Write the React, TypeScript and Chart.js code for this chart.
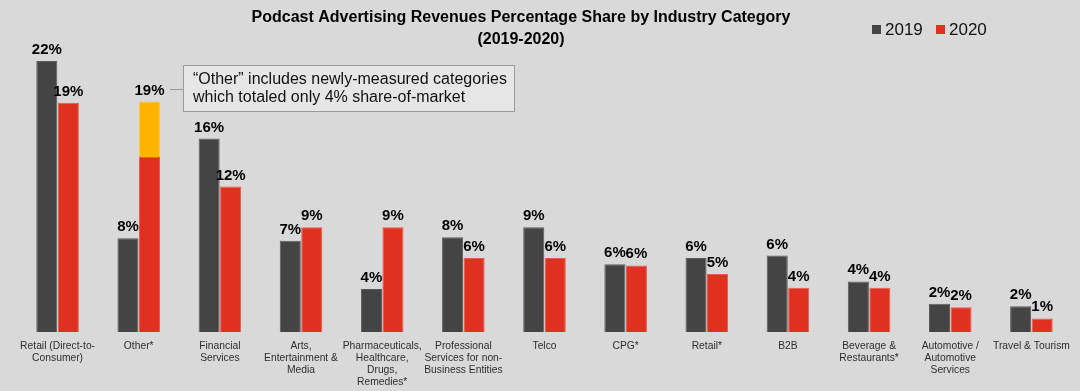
import React, { useEffect, useRef } from "react";
import { Chart, registerables } from "chart.js";

Chart.register(...registerables);

const categories: string[][] = [
  ["Retail (Direct-to-", "Consumer)"],
  ["Other*"],
  ["Financial", "Services"],
  ["Arts,", "Entertainment &", "Media"],
  ["Pharmaceuticals,", "Healthcare,", "Drugs,", "Remedies*"],
  ["Professional", "Services for non-", "Business Entities"],
  ["Telco"],
  ["CPG*"],
  ["Retail*"],
  ["B2B"],
  ["Beverage &", "Restaurants*"],
  ["Automotive /", "Automotive", "Services"],
  ["Travel & Tourism"],
];

const values2019 = [22.0, 7.6, 15.7, 7.4, 3.5, 7.7, 8.5, 5.5, 6.0, 6.2, 4.1, 2.3, 2.1];
const values2020 = [18.6, 14.2, 11.8, 8.5, 8.5, 6.0, 6.0, 5.4, 4.7, 3.6, 3.6, 2.0, 1.1];
const newlyMeasured2020 = [null, 4.5, null, null, null, null, null, null, null, null, null, null, null];

const labels2019 = ["22%", "8%", "16%", "7%", "4%", "8%", "9%", "6%", "6%", "6%", "4%", "2%", "2%"];
const labels2020 = ["19%", "19%", "12%", "9%", "9%", "6%", "6%", "6%", "5%", "4%", "4%", "2%", "1%"];

const titleLines = ["Podcast Advertising Revenues Percentage Share by Industry Category", "(2019-2020)"];
const legendLabels = ["2019", "2020"];
const noteLines = ["\u201COther\u201D includes newly-measured categories", "which totaled only 4% share-of-market"];

const FONT = "'Liberation Sans', Arial, Helvetica, sans-serif";
const C2019 = "#444444";
const C2020 = "#e0301f";
const CNEW = "#ffb400";

const decorPlugin = {
  id: "decor",
  beforeDraw(chart: any) {
    const ctx = chart.ctx;
    ctx.save();
    ctx.fillStyle = "#d9d9d9";
    ctx.fillRect(0, 0, chart.width, chart.height);
    ctx.restore();
  },
  afterDraw(chart: any) {
    const ctx = chart.ctx;
    ctx.save();
    // title
    ctx.fillStyle = "#000";
    ctx.font = `bold 16px ${FONT}`;
    ctx.textAlign = "center";
    ctx.textBaseline = "middle";
    ctx.fillText(titleLines[0], 521, 18);
    ctx.fillText(titleLines[1], 521, 40);

    // legend
    ctx.font = `17px ${FONT}`;
    ctx.textAlign = "left";
    const lx = [872, 936];
    const lc = [C2019, C2020];
    legendLabels.forEach((t, i) => {
      ctx.fillStyle = lc[i];
      ctx.fillRect(lx[i], 25, 9, 9);
      ctx.fillStyle = "#111";
      ctx.fillText(t, lx[i] + 13, 30);
    });

    // data labels
    const m19 = chart.getDatasetMeta(0);
    const m20 = chart.getDatasetMeta(1);
    const mNew = chart.getDatasetMeta(2);
    ctx.font = `bold 15px ${FONT}`;
    ctx.fillStyle = "#000";
    ctx.textAlign = "center";
    ctx.textBaseline = "alphabetic";
    m19.data.forEach((el: any, i: number) => {
      ctx.fillText(labels2019[i], el.x, el.y - 7);
    });
    m20.data.forEach((el: any, i: number) => {
      let y = el.y;
      if (newlyMeasured2020[i] != null) y = mNew.data[i].y;
      ctx.fillText(labels2020[i], el.x, y - 7);
    });

    // annotation
    const bx = 183, by = 65, bw = 331, bh = 46;
    ctx.fillStyle = "#e6e6e6";
    ctx.fillRect(bx, by, bw, bh);
    ctx.strokeStyle = "#9a9a9a";
    ctx.lineWidth = 1;
    ctx.strokeRect(bx + 0.5, by + 0.5, bw, bh);
    ctx.beginPath();
    ctx.moveTo(170, 89.5);
    ctx.lineTo(bx, 89.5);
    ctx.stroke();
    ctx.fillStyle = "#111";
    ctx.font = `16px ${FONT}`;
    ctx.textAlign = "left";
    ctx.textBaseline = "middle";
    ctx.fillText(noteLines[0], 193, 80);
    ctx.fillText(noteLines[1], 193, 98);
    ctx.restore();
  },
};

export default function App() {
  const ref = useRef<HTMLCanvasElement | null>(null);
  useEffect(() => {
    document.body.style.margin = "0";
    if (!ref.current) return;
    const chart = new Chart(ref.current, {
      type: "bar",
      data: {
        labels: categories,
        datasets: [
          { label: "2019", data: values2019, backgroundColor: C2019, borderColor: "#5c5c5c", borderWidth: 1, stack: "a" },
          { label: "2020", data: values2020, backgroundColor: C2020, borderColor: "#e8584a", borderWidth: 1, stack: "b" },
          { label: "new", data: newlyMeasured2020 as any, backgroundColor: CNEW, borderColor: "#ffc640", borderWidth: 1, stack: "b" },
        ],
      },
      options: {
        responsive: false,
        animation: false,
        maintainAspectRatio: false,
        datasets: { bar: { categoryPercentage: 0.53, barPercentage: 0.98 } },
        layout: { padding: { top: 24, left: 17, right: 8, bottom: 0 } },
        plugins: { legend: { display: false }, title: { display: false }, tooltip: { enabled: false } },
        scales: {
          x: {
            stacked: true,
            grid: { display: false, drawTicks: false },
            border: { display: false },
            afterFit: (scale: any) => {
              scale.height = 59;
            },
            ticks: {
              color: "#2e2e2e",
              font: { family: FONT, size: 10.3, lineHeight: 1.165 },
              padding: 8,
              maxRotation: 0,
              autoSkip: false,
            },
          },
          y: { stacked: true, display: false, min: 0, max: 25 },
        },
      },
      plugins: [decorPlugin],
    });
    return () => chart.destroy();
  }, []);
  return (
    <div style={{ width: 1080, height: 391 }}>
      <canvas ref={ref} width={1080} height={391} style={{ display: "block" }} />
    </div>
  );
}
